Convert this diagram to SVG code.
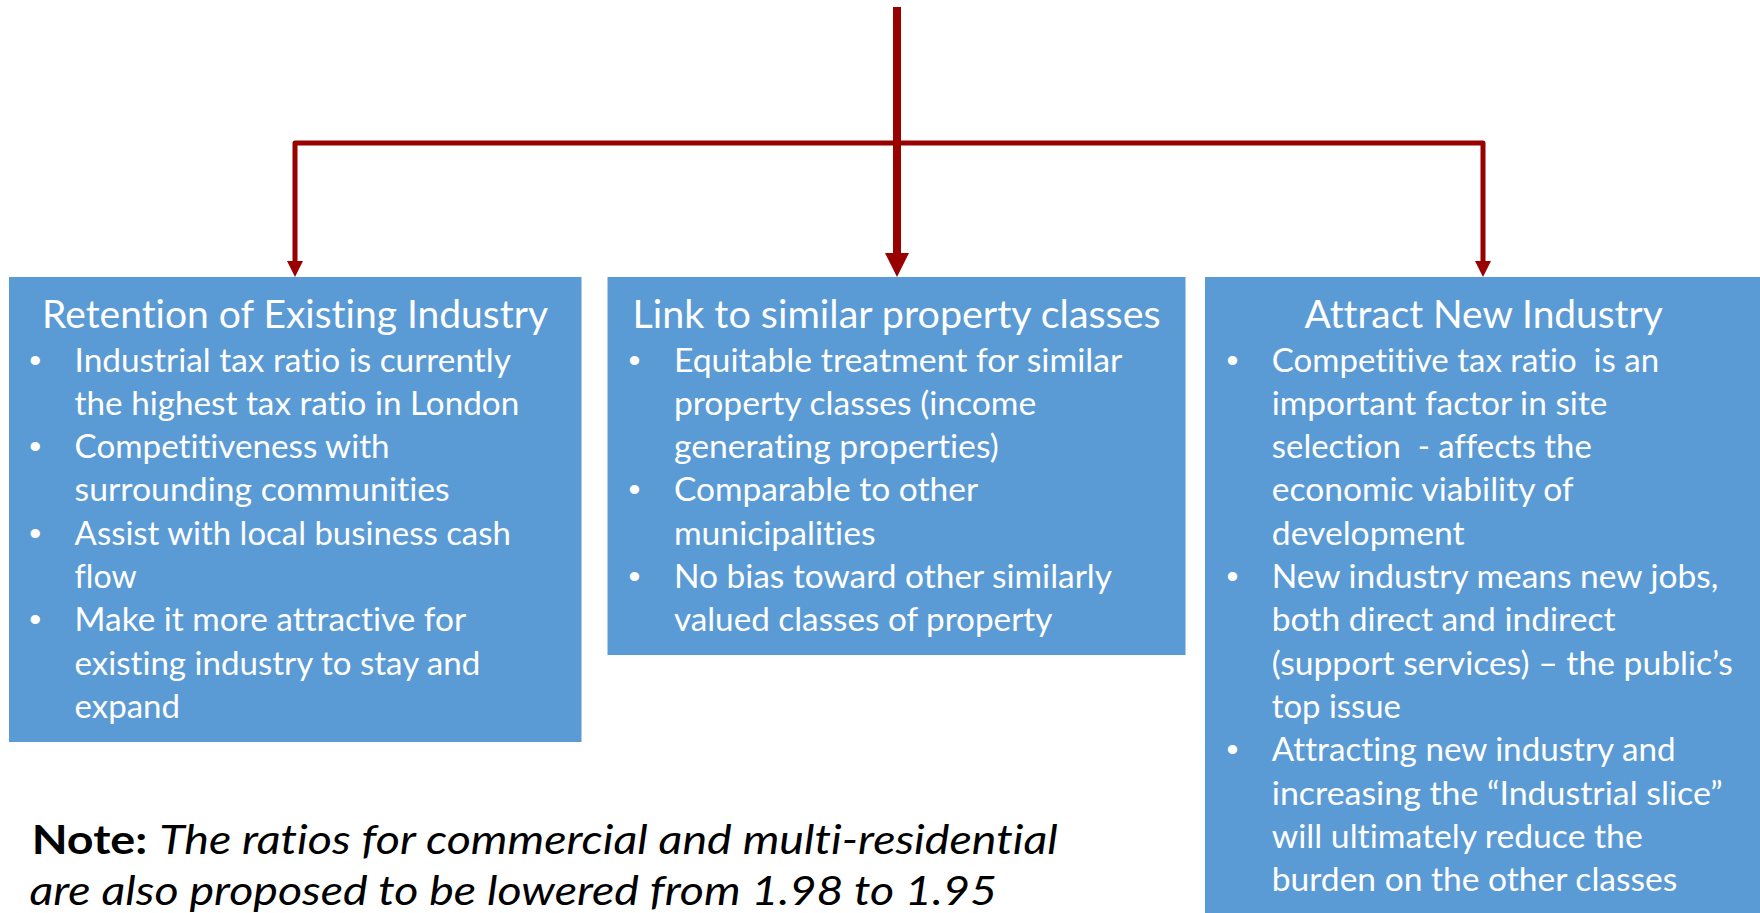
<svg xmlns="http://www.w3.org/2000/svg" width="1760" height="913" viewBox="0 0 1760 913">
  <style>
    text { font-variant-ligatures: none; }
    .box { fill: #5B9BD5; }
    .title { font-family: Lato, "Open Sans", "Liberation Sans", sans-serif; font-size: 38px; fill: #FFFFFF; }
    .item { font-family: Lato, "Open Sans", "Liberation Sans", sans-serif; font-size: 32px; fill: #FFFFFF; }
    .dot { font-family: "Liberation Sans", sans-serif; font-size: 34px; fill: #FFFFFF; text-anchor: middle; }
    .note { font-family: Lato, "Open Sans", "Liberation Sans", sans-serif; font-size: 41px; fill: #000000; }
    .link { fill: none; stroke: #990000; stroke-linejoin: round; }
  </style>
  <defs>
    <marker id="headLarge" markerUnits="userSpaceOnUse" viewBox="0 0 24 24" markerWidth="24" markerHeight="24" refX="1" refY="12" orient="auto">
      <path d="M0,0 L24,12 L0,24 Z" fill="#990000"/>
    </marker>
    <marker id="headSmall" markerUnits="userSpaceOnUse" viewBox="0 0 16 16" markerWidth="16" markerHeight="16" refX="1" refY="8" orient="auto">
      <path d="M0,0 L16,8 L0,16 Z" fill="#990000"/>
    </marker>
  </defs>

  <!-- connectors: trunk down the middle, elbows out to the side boxes -->
  <g id="connectors">
    <path class="link" d="M897,143 H295 V262" stroke-width="5" marker-end="url(#headSmall)"/>
    <path class="link" d="M897,143 H1483 V262" stroke-width="5" marker-end="url(#headSmall)"/>
    <path class="link" d="M897,7 V254" stroke-width="8" marker-end="url(#headLarge)"/>
  </g>

  <!-- left box -->
  <g id="retention">
    <rect class="box" x="9" y="277" width="572.5" height="465"/>
    <text class="title" x="42.1" y="328" textLength="505.9" lengthAdjust="spacingAndGlyphs">Retention of Existing Industry</text>
    <text class="dot" x="35.2" y="371.5">•</text>
    <text class="dot" x="35.2" y="458.1">•</text>
    <text class="dot" x="35.2" y="544.7">•</text>
    <text class="dot" x="35.2" y="631.3">•</text>
    <text class="item" x="74.6" y="371.5" textLength="436.3" lengthAdjust="spacingAndGlyphs">Industrial tax ratio is currently</text>
    <text class="item" x="74.6" y="414.8" textLength="444.7" lengthAdjust="spacingAndGlyphs">the highest tax ratio in London</text>
    <text class="item" x="74.6" y="458.1" textLength="315" lengthAdjust="spacingAndGlyphs">Competitiveness with</text>
    <text class="item" x="74.6" y="501.4" textLength="375.1" lengthAdjust="spacingAndGlyphs">surrounding communities</text>
    <text class="item" x="74.6" y="544.7" textLength="436.3" lengthAdjust="spacingAndGlyphs">Assist with local business cash</text>
    <text class="item" x="74.6" y="588" textLength="62" lengthAdjust="spacingAndGlyphs">flow</text>
    <text class="item" x="74.6" y="631.3" textLength="391.5" lengthAdjust="spacingAndGlyphs">Make it more attractive for</text>
    <text class="item" x="74.6" y="674.6" textLength="405.7" lengthAdjust="spacingAndGlyphs">existing industry to stay and</text>
    <text class="item" x="74.6" y="717.9" textLength="105.3" lengthAdjust="spacingAndGlyphs">expand</text>
  </g>

  <!-- middle box -->
  <g id="link-classes">
    <rect class="box" x="607.5" y="277" width="578" height="378"/>
    <text class="title" x="632.5" y="328" textLength="528.1" lengthAdjust="spacingAndGlyphs">Link to similar property classes</text>
    <text class="dot" x="634.4" y="371.5">•</text>
    <text class="dot" x="634.4" y="501.4">•</text>
    <text class="dot" x="634.4" y="588">•</text>
    <text class="item" x="673.9" y="371.5" textLength="448.5" lengthAdjust="spacingAndGlyphs">Equitable treatment for similar</text>
    <text class="item" x="673.9" y="414.8" textLength="362.4" lengthAdjust="spacingAndGlyphs">property classes (income</text>
    <text class="item" x="673.9" y="458.1" textLength="324.9" lengthAdjust="spacingAndGlyphs">generating properties)</text>
    <text class="item" x="673.9" y="501.4" textLength="304.2" lengthAdjust="spacingAndGlyphs">Comparable to other</text>
    <text class="item" x="673.9" y="544.7" textLength="201.6" lengthAdjust="spacingAndGlyphs">municipalities</text>
    <text class="item" x="673.9" y="588" textLength="438.1" lengthAdjust="spacingAndGlyphs">No bias toward other similarly</text>
    <text class="item" x="673.9" y="631.3" textLength="378.5" lengthAdjust="spacingAndGlyphs">valued classes of property</text>
  </g>

  <!-- right box, runs off the page edge -->
  <g id="attract">
    <rect class="box" x="1205" y="277" width="560" height="640"/>
    <text class="title" x="1304.5" y="328" textLength="358.2" lengthAdjust="spacingAndGlyphs">Attract New Industry</text>
    <text class="dot" x="1232.5" y="371.5">•</text>
    <text class="dot" x="1232.5" y="588">•</text>
    <text class="dot" x="1232.5" y="761.2">•</text>
    <text class="item" x="1271.8" y="371.5" textLength="387.3" lengthAdjust="spacingAndGlyphs" xml:space="preserve">Competitive tax ratio  is an</text>
    <text class="item" x="1271.8" y="414.8" textLength="335.7" lengthAdjust="spacingAndGlyphs">important factor in site</text>
    <text class="item" x="1271.8" y="458.1" textLength="320" lengthAdjust="spacingAndGlyphs" xml:space="preserve">selection  - affects the</text>
    <text class="item" x="1271.8" y="501.4" textLength="301.8" lengthAdjust="spacingAndGlyphs">economic viability of</text>
    <text class="item" x="1271.8" y="544.7" textLength="192.7" lengthAdjust="spacingAndGlyphs">development</text>
    <text class="item" x="1271.8" y="588" textLength="446.6" lengthAdjust="spacingAndGlyphs">New industry means new jobs,</text>
    <text class="item" x="1271.8" y="631.3" textLength="343.7" lengthAdjust="spacingAndGlyphs">both direct and indirect</text>
    <text class="item" x="1271.8" y="674.6" textLength="461.1" lengthAdjust="spacingAndGlyphs">(support services) – the public’s</text>
    <text class="item" x="1271.8" y="717.9" textLength="129.1" lengthAdjust="spacingAndGlyphs">top issue</text>
    <text class="item" x="1271.8" y="761.2" textLength="403.7" lengthAdjust="spacingAndGlyphs">Attracting new industry and</text>
    <text class="item" x="1271.8" y="804.5" textLength="450.9" lengthAdjust="spacingAndGlyphs">increasing the “Industrial slice”</text>
    <text class="item" x="1271.8" y="847.8" textLength="370.9" lengthAdjust="spacingAndGlyphs">will ultimately reduce the</text>
    <text class="item" x="1271.8" y="891.1" textLength="405.5" lengthAdjust="spacingAndGlyphs">burden on the other classes</text>
  </g>

  <!-- footnote -->
  <g id="note">
    <text class="note" x="31.7" y="854" textLength="1026" lengthAdjust="spacingAndGlyphs"><tspan font-weight="bold">Note:</tspan> <tspan font-style="italic">The ratios for commercial and multi-residential</tspan></text>
    <text class="note" x="29.5" y="905" textLength="967.5" lengthAdjust="spacingAndGlyphs" font-style="italic">are also proposed to be lowered from 1.98 to 1.95</text>
  </g>
</svg>
